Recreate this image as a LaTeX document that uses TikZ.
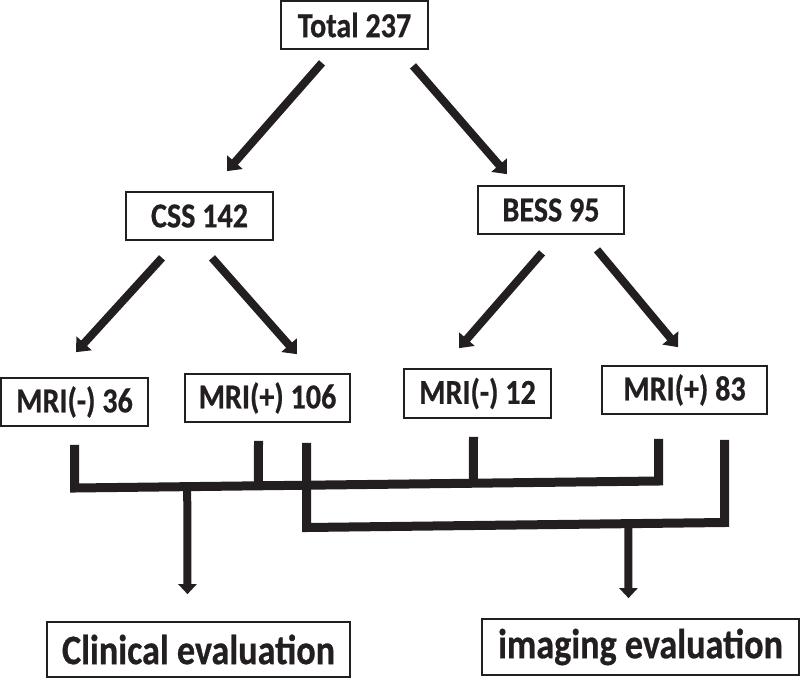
\documentclass[tikz,border=0pt]{standalone}
\usepackage{fontspec}
\setmainfont{Carlito}[FakeStretch=0.86,BoldFeatures={FakeBold=0.6}]
\usetikzlibrary{arrows.meta,calc}
\definecolor{ink}{HTML}{231F20}
\begin{document}
\begin{tikzpicture}[x=1pt,y=-1pt,
  box/.style={draw=ink,line width=1.7pt,inner sep=0pt,minimum height=48pt,
    text=ink,font=\bfseries\fontsize{35}{35}\selectfont},
  endbox/.style={box,minimum height=55pt,font=\bfseries\fontsize{42}{42}\selectfont},
  fat/.style={draw=ink,line width=8pt,-{Triangle[width=20pt,length=12pt]}},
  drop/.style={draw=ink,line width=8pt,-{Triangle[width=18pt,length=10pt]}},
  bar/.style={draw=ink,line width=9pt,line join=miter}]
  \useasboundingbox (0,0) rectangle (800,678);
  % boxes
  \node[box,minimum width=147pt] (total) at (354.5,25) {Total 237};
  \node[box,minimum width=147pt] (css) at (199.5,216) {CSS 142};
  \node[box,minimum width=146pt] (bess) at (551,210) {BESS 95};
  \node[box,minimum width=147pt] (mrin36) at (74.5,402) {MRI(-) 36};
  \node[box,minimum width=165pt] (mrip106) at (267.5,398) {MRI(+) 106};
  \node[box,minimum width=147pt,minimum height=49pt] (mrin12) at (477.5,393.5) {MRI(-) 12};
  \node[box,minimum width=165pt] (mrip83) at (684.5,390) {MRI(+) 83};
  \node[endbox,minimum width=303pt] (clinical) at (198.5,649.5) {Clinical evaluation};
  \node[endbox,minimum width=317pt,minimum height=56pt] (imaging) at (640.5,647) {imaging evaluation};
  % tree arrows
  \foreach \from/\sx/\sy/\to/\ex/\ey in {total/-32.5/13/css/27.5/-20,
      total/58.5/16/bess/-44/-11, css/-37.5/17/mrin36/1.5/-25,
      css/12.5/17/mrip106/29.5/-19, bess/-9/18/mrin12/-18.5/-20,
      bess/46/15/mrip83/-6.5/-18}
    \draw[fat] ([shift={(\sx,\sy)}]\from.south) -- ([shift={(\ex,\ey)}]\to.north);
  % first bracket
  \coordinate (c1) at (74.5,488);
  \coordinate (c2) at (658.5,481);
  \draw[bar] ([shift={(0,18)}]mrin36.south) -- (c1) -- (c2) -- ([shift={(-26,24)}]mrip83.south);
  \draw[bar] ([shift={(-9,18)}]mrip106.south) -- ($(c1)!0.315!(c2)$);
  \draw[bar] ([shift={(-4,18)}]mrin12.south) -- ($(c1)!0.683!(c2)$);
  % second bracket
  \coordinate (k1) at (306.5,527.5);
  \coordinate (k2) at (724.5,522.5);
  \draw[bar] ([shift={(39,20)}]mrip106.south) -- (k1) -- (k2) -- ([shift={(40,25)}]mrip83.south);
  % to evaluation
  \draw[drop] ($(c1)!0.193!(c2)$) -- ([shift={(-11,-27)}]clinical.north);
  \draw[drop] ($(k1)!0.770!(k2)$) -- ([shift={(-12,-20)}]imaging.north);
\end{tikzpicture}
\end{document}
